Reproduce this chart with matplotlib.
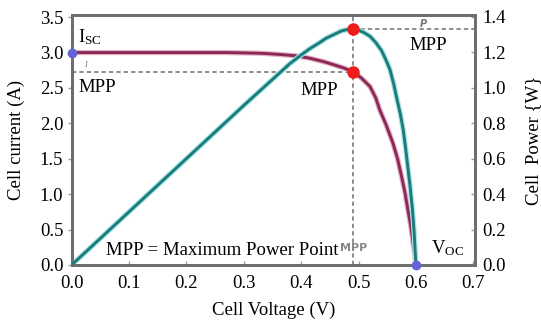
import matplotlib
matplotlib.use("Agg")
import matplotlib.pyplot as plt

plt.rcParams['font.family'] = ['Liberation Serif', 'DejaVu Serif']
plt.rcParams['mathtext.fontset'] = 'custom'
plt.rcParams['mathtext.rm'] = 'Liberation Serif'
plt.rcParams['mathtext.it'] = 'Liberation Serif:italic'

# I-V curve
iv_voltage = [0.0, 0.1, 0.2, 0.27, 0.3, 0.33, 0.36, 0.39, 0.415, 0.44, 0.456, 0.475, 0.49, 0.505, 0.52,
              0.53, 0.537, 0.548, 0.56, 0.568, 0.575, 0.581, 0.586, 0.591, 0.595, 0.598, 0.6]
iv_current = [3.0, 3.0, 3.0, 3.0, 2.995, 2.99, 2.975, 2.955, 2.92, 2.87, 2.83, 2.78, 2.73, 2.64, 2.52,
              2.36, 2.19, 1.98, 1.72, 1.50, 1.25, 1.02, 0.78, 0.55, 0.31, 0.15, 0.0]

# P-V curve
pv_voltage = [0.0, 0.1, 0.2, 0.3, 0.38, 0.4, 0.415, 0.43, 0.444, 0.457, 0.47, 0.48, 0.49, 0.5, 0.51,
              0.52, 0.53, 0.54, 0.548, 0.555, 0.561, 0.567, 0.573, 0.578, 0.582, 0.586, 0.59, 0.594,
              0.597, 0.6]
pv_power = [0.0, 0.30, 0.60, 0.90, 1.135, 1.185, 1.22, 1.25, 1.28, 1.30, 1.32, 1.328, 1.33, 1.325, 1.31,
            1.29, 1.255, 1.21, 1.155, 1.10, 1.025, 0.935, 0.85, 0.76, 0.66, 0.55, 0.44, 0.31,
            0.18, 0.0]

v_mpp, i_mpp, p_mpp = 0.49, 2.73, 1.33
i_sc, v_oc = 3.0, 0.6

x_ticks = [0.0, 0.1, 0.2, 0.3, 0.4, 0.5, 0.6, 0.7]
yl_ticks = [0.0, 0.5, 1.0, 1.5, 2.0, 2.5, 3.0, 3.5]
yr_ticks = [0.0, 0.2, 0.4, 0.6, 0.8, 1.0, 1.2, 1.4]

fig = plt.figure(figsize=(5.41, 3.2), dpi=100)
ax = fig.add_axes([0.1325, 0.172, 0.7455, 0.781])
ax2 = ax.twinx()

grey = '#8c8c8c'
dash = (0, (2.2, 1.6))

XMAX, YLMAX, YRMAX = 0.703, 3.53, 1.41
ax.set_xlim(0, XMAX)
ax.set_ylim(0, YLMAX)
ax2.set_ylim(0, YRMAX)

# dashed guide lines
ax.plot([0, v_mpp], [i_mpp, i_mpp], color=grey, lw=1.4, ls=dash, zorder=1)
ax.axvline(v_mpp, color=grey, lw=1.4, ls=dash, zorder=1)
ax2.plot([v_mpp, XMAX], [p_mpp, p_mpp], color=grey, lw=1.4, ls=dash, zorder=1)

# curves with light halo
ax.plot(iv_voltage, iv_current, color='#e7b3c9', lw=3.8, zorder=2, solid_capstyle='round')
ax.plot(iv_voltage, iv_current, color='#8a2a55', lw=2.1, zorder=3, solid_capstyle='round')
ax2.plot(pv_voltage, pv_power, color='#a6e6e6', lw=3.8, zorder=2, solid_capstyle='round')
ax2.plot(pv_voltage, pv_power, color='#1e7b7b', lw=2.1, zorder=3, solid_capstyle='round')

# markers (drawn on the top axes, current values scaled to its range)
ax2.plot([v_mpp], [p_mpp], 'o', color='#ee1c1c', ms=8, zorder=5, clip_on=False)
ax2.plot([v_mpp], [i_mpp * YRMAX / YLMAX], 'o', color='#ee1c1c', ms=8, zorder=5, clip_on=False)
ax2.plot([0.0, v_oc], [i_sc * YRMAX / YLMAX, 0.0], 'o', color='#6464d8', ms=6, zorder=5, clip_on=False)

fs = 13.5
ax.text(0.011, 3.14, r'I$_{\mathrm{SC}}$', fontsize=fs, ha='left', va='baseline')
ax.text(0.022, 2.77, 'I', fontsize=6, color='#777777', style='italic', ha='left', va='bottom')
ax.text(0.011, 2.45, 'MPP', fontsize=fs, ha='left', va='baseline',
        bbox=dict(facecolor='white', edgecolor='none', pad=1.5))
ax.text(0.398, 2.40, 'MPP', fontsize=fs, ha='left', va='baseline',
        bbox=dict(facecolor='white', edgecolor='none', pad=1.0))
ax.text(0.589, 3.04, 'MPP', fontsize=fs, ha='left', va='baseline',
        bbox=dict(facecolor='white', edgecolor='none', pad=1.0))
ax.text(0.607, 3.36, 'P', fontsize=7, color='#777777', style='italic', fontweight='bold',
        family='DejaVu Sans', ha='left', va='baseline')
ax.text(0.492, 0.20, 'MPP', fontsize=8, color='#888888', fontweight='bold', family='DejaVu Sans',
        ha='center', va='baseline', zorder=4)
ax.text(0.059, 0.141, 'MPP = Maximum Power Point', fontsize=fs, ha='left', va='baseline', zorder=4,
        bbox=dict(facecolor='white', edgecolor='none', pad=1.0))
ax.text(0.627, 0.17, r'V$_{\mathrm{OC}}$', fontsize=fs, ha='left', va='baseline')

# axes styling
for a in (ax, ax2):
    for s in a.spines.values():
        s.set_color('#6e6e6e')
        s.set_linewidth(2.0)

ax.set_xticks(x_ticks)
ax.set_xticklabels([f'{v:.1f}' for v in x_ticks])
ax.set_yticks(yl_ticks)
ax.set_yticklabels([f'{v:.1f}' for v in yl_ticks])
ax2.set_yticks(yr_ticks)
ax2.set_yticklabels([f'{v:.1f}' for v in yr_ticks])

ax.tick_params(axis='x', direction='in', length=3, width=1, color='#999999', labelsize=fs, pad=7)
ax.tick_params(axis='y', direction='out', length=3, width=1, color='#999999', labelsize=fs, pad=3)
ax2.tick_params(axis='y', direction='in', length=3, width=1, color='#999999', labelsize=fs, pad=5)

ax.set_xlabel('Cell Voltage (V)', fontsize=fs, labelpad=7)
ax.set_ylabel('Cell current (A)', fontsize=fs, labelpad=11)
ax2.set_ylabel('Cell  Power {W}', fontsize=fs, labelpad=14, rotation=90)

fig.savefig('out.png', dpi=100)
